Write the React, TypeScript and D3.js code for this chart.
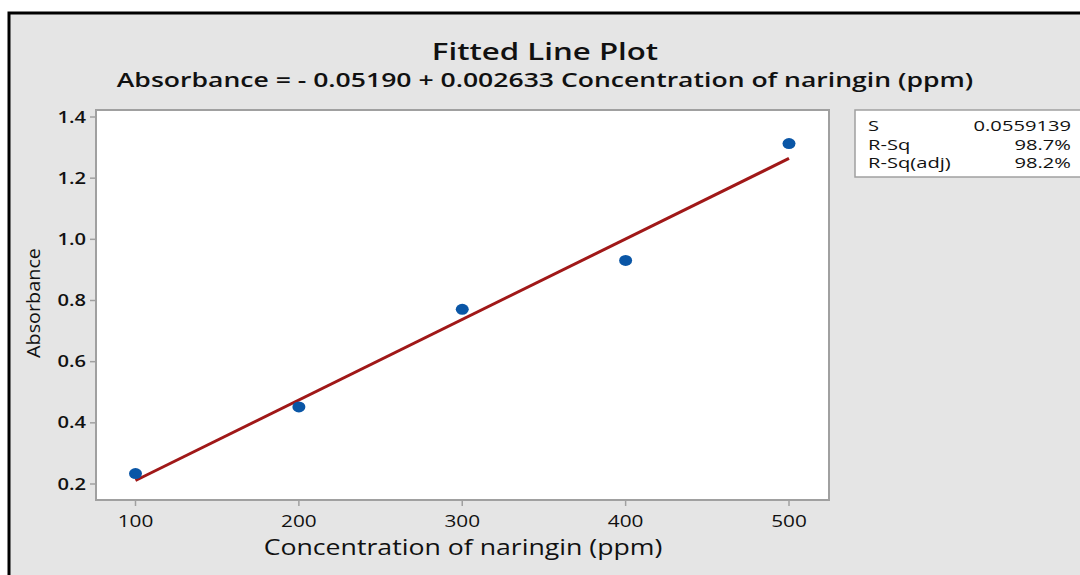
import React from "react";
import * as d3 from "d3";

const concentrations = [100, 200, 300, 400, 500];
const absorbances = [0.234, 0.452, 0.771, 0.931, 1.313];
const intercept = -0.0519;
const slope = 0.002633;
const xTicks = [100, 200, 300, 400, 500];
const yTicks = [0.2, 0.4, 0.6, 0.8, 1.0, 1.2, 1.4];
const statLabels = ["S", "R-Sq", "R-Sq(adj)"];
const statValues = ["0.0559139", "98.7%", "98.2%"];

const W = 1080;
const H = 575;
const font = "'Open Sans', 'Noto Sans', sans-serif";

// horizontal stretch applied to text to mimic the wide reference glyphs
const STRETCH = 1.3;

function SText(props: {
  x: number;
  y: number;
  anchor?: "start" | "middle" | "end";
  size: number;
  weight?: number;
  sx?: number;
  children: React.ReactNode;
  dy?: string;
}) {
  const sx = props.sx ?? STRETCH;
  return (
    <g transform={`translate(${props.x},${props.y}) scale(${sx},1)`}>
      <text
        x={0}
        y={0}
        dy={props.dy}
        textAnchor={props.anchor || "start"}
        fontFamily={font}
        fontSize={props.size}
        fontWeight={props.weight || 400}
        fill="#111"
      >
        {props.children}
      </text>
    </g>
  );
}

export default function App() {
  const left = 96, right = 829, top = 110, bottom = 500;
  const x = d3.scaleLinear().domain([100, 500]).range([135.5, 789]);
  const y = d3.scaleLinear().domain([0.2, 1.4]).range([484, 117]);
  const fitLine = d3.line<number>().x((d) => x(d)).y((d) => y(intercept + slope * d));
  const xs = [concentrations[0], concentrations[concentrations.length - 1]];
  const axisColor = "#a0a0a0";

  return (
    <svg width={W} height={H} style={{ position: "absolute", left: 0, top: 0 }}>
      <rect x={0} y={0} width={W} height={H} fill="#ffffff" />
      <rect x={9} y={13} width={W + 20} height={H + 20} fill="#e5e5e5" stroke="#000" strokeWidth={3} />
      <SText x={545} y={60} anchor="middle" size={24} weight={600}>
        Fitted Line Plot
      </SText>
      <SText x={545} y={87} anchor="middle" size={20} weight={600} sx={1.328}>
        Absorbance = - 0.05190 + 0.002633 Concentration of naringin (ppm)
      </SText>
      <rect x={left} y={top} width={right - left} height={bottom - top} fill="#fff" stroke={axisColor} strokeWidth={2} />
      {yTicks.map((t) => (
        <g key={"y" + t}>
          <line x1={left - 6} x2={left} y1={y(t)} y2={y(t)} stroke={axisColor} strokeWidth={1.5} />
          <SText x={left - 10} y={y(t)} dy="0.36em" anchor="end" size={15.5} weight={600}>
            {t.toFixed(1)}
          </SText>
        </g>
      ))}
      {xTicks.map((t) => (
        <g key={"x" + t}>
          <line x1={x(t)} x2={x(t)} y1={bottom} y2={bottom + 6} stroke={axisColor} strokeWidth={1.5} />
          <SText x={x(t)} y={bottom + 27} anchor="middle" size={16}>
            {t}
          </SText>
        </g>
      ))}
      <path d={fitLine(xs) || ""} fill="none" stroke="#a01818" strokeWidth={3} />
      {concentrations.map((c, i) => (
        <ellipse key={c} cx={x(c)} cy={y(absorbances[i])} rx={6.5} ry={5.5} fill="#0a56a6" />
      ))}
      <SText x={463} y={555} anchor="middle" size={21} weight={500} sx={1.27}>
        Concentration of naringin (ppm)
      </SText>
      <g transform="translate(40,303) rotate(-90)">
        <text
          x={0}
          y={0}
          textAnchor="middle"
          fontFamily={font}
          fontSize={19}
          fontWeight={500}
          textLength={110}
          lengthAdjust="spacingAndGlyphs"
          fill="#111"
        >
          Absorbance
        </text>
      </g>
      <rect x={855} y={110} width={240} height={67} fill="#fff" stroke={axisColor} strokeWidth={1.5} />
      {statLabels.map((s, i) => (
        <g key={s}>
          <SText x={868} y={131 + i * 18.5} size={14} weight={500} sx={1.44}>
            {s}
          </SText>
          <SText x={1071} y={131 + i * 18.5} anchor="end" size={14} weight={500} sx={1.44}>
            {statValues[i]}
          </SText>
        </g>
      ))}
    </svg>
  );
}
